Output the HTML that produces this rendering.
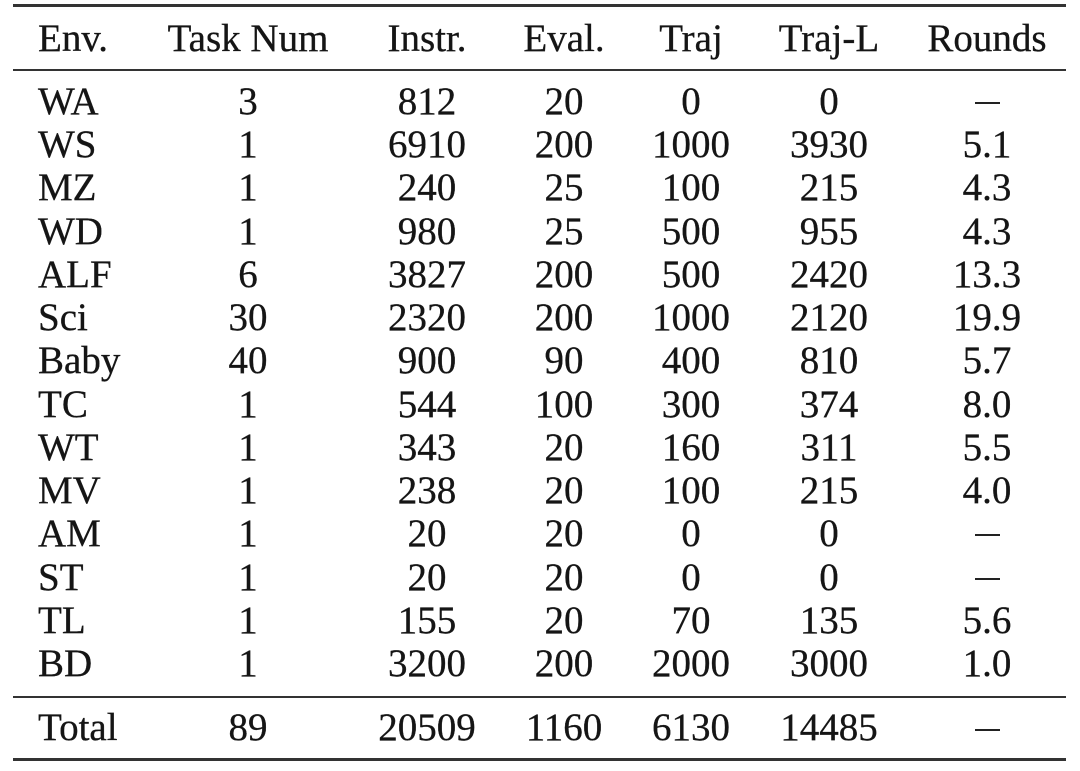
<!DOCTYPE html>
<html><head><style>
html,body{margin:0;padding:0;background:#fff;}
svg{display:block;}
text{font-family:"Liberation Serif",serif;font-size:39px;fill:#151515;stroke:#151515;stroke-width:0.3;}
</style></head><body>
<svg width="1080" height="771" xmlns="http://www.w3.org/2000/svg">
<rect x="13" y="4" width="1053" height="3" fill="#333"/>
<rect x="13" y="69" width="1053" height="2" fill="#333"/>
<rect x="13" y="696" width="1053" height="2" fill="#333"/>
<rect x="13" y="758" width="1053" height="3" fill="#333"/>
<text x="38" y="51">Env.</text>
<g text-anchor="middle">
<text x="248" y="51">Task Num</text>
<text x="427" y="51">Instr.</text>
<text x="564" y="51">Eval.</text>
<text x="691" y="51">Traj</text>
<text x="829" y="51">Traj-L</text>
<text x="987" y="51">Rounds</text>
</g>
<g>
<text x="38" y="114">WA</text><text x="38" y="157">WS</text><text x="38" y="200">MZ</text><text x="38" y="244">WD</text><text x="38" y="287">ALF</text><text x="38" y="330">Sci</text><text x="38" y="373">Baby</text><text x="38" y="417">TC</text><text x="38" y="460">WT</text><text x="38" y="503">MV</text><text x="38" y="546">AM</text><text x="38" y="590">ST</text><text x="38" y="633">TL</text><text x="38" y="676">BD</text><text x="38" y="740">Total</text>
</g>
<g text-anchor="middle">
<text x="248" y="114">3</text><text x="427" y="114">812</text><text x="564" y="114">20</text><text x="691" y="114">0</text><text x="829" y="114">0</text><rect x="975" y="102" width="25" height="2" fill="#222"/>
<text x="248" y="157">1</text><text x="427" y="157">6910</text><text x="564" y="157">200</text><text x="691" y="157">1000</text><text x="829" y="157">3930</text><text x="987" y="157">5.1</text>
<text x="248" y="200">1</text><text x="427" y="200">240</text><text x="564" y="200">25</text><text x="691" y="200">100</text><text x="829" y="200">215</text><text x="987" y="200">4.3</text>
<text x="248" y="244">1</text><text x="427" y="244">980</text><text x="564" y="244">25</text><text x="691" y="244">500</text><text x="829" y="244">955</text><text x="987" y="244">4.3</text>
<text x="248" y="287">6</text><text x="427" y="287">3827</text><text x="564" y="287">200</text><text x="691" y="287">500</text><text x="829" y="287">2420</text><text x="987" y="287">13.3</text>
<text x="248" y="330">30</text><text x="427" y="330">2320</text><text x="564" y="330">200</text><text x="691" y="330">1000</text><text x="829" y="330">2120</text><text x="987" y="330">19.9</text>
<text x="248" y="373">40</text><text x="427" y="373">900</text><text x="564" y="373">90</text><text x="691" y="373">400</text><text x="829" y="373">810</text><text x="987" y="373">5.7</text>
<text x="248" y="417">1</text><text x="427" y="417">544</text><text x="564" y="417">100</text><text x="691" y="417">300</text><text x="829" y="417">374</text><text x="987" y="417">8.0</text>
<text x="248" y="460">1</text><text x="427" y="460">343</text><text x="564" y="460">20</text><text x="691" y="460">160</text><text x="829" y="460">311</text><text x="987" y="460">5.5</text>
<text x="248" y="503">1</text><text x="427" y="503">238</text><text x="564" y="503">20</text><text x="691" y="503">100</text><text x="829" y="503">215</text><text x="987" y="503">4.0</text>
<text x="248" y="546">1</text><text x="427" y="546">20</text><text x="564" y="546">20</text><text x="691" y="546">0</text><text x="829" y="546">0</text><rect x="975" y="534" width="25" height="2" fill="#222"/>
<text x="248" y="590">1</text><text x="427" y="590">20</text><text x="564" y="590">20</text><text x="691" y="590">0</text><text x="829" y="590">0</text><rect x="975" y="578" width="25" height="2" fill="#222"/>
<text x="248" y="633">1</text><text x="427" y="633">155</text><text x="564" y="633">20</text><text x="691" y="633">70</text><text x="829" y="633">135</text><text x="987" y="633">5.6</text>
<text x="248" y="676">1</text><text x="427" y="676">3200</text><text x="564" y="676">200</text><text x="691" y="676">2000</text><text x="829" y="676">3000</text><text x="987" y="676">1.0</text>
<text x="248" y="740">89</text><text x="427" y="740">20509</text><text x="564" y="740">1160</text><text x="691" y="740">6130</text><text x="829" y="740">14485</text><rect x="975" y="729" width="25" height="2" fill="#222"/>
</g>
</svg>
</body></html>
